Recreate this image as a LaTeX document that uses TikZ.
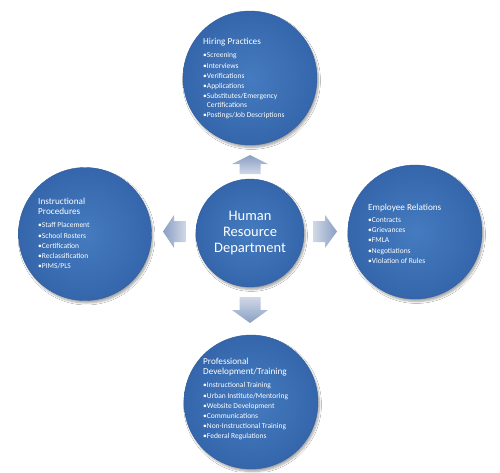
\documentclass[tikz,border=0pt]{standalone}
\usepackage{fontspec}
\setmainfont{Carlito}
\usetikzlibrary{shadows.blur}
\definecolor{cbluein}{HTML}{457BC0}
\definecolor{cblueout}{HTML}{3566AB}
\definecolor{cedge}{HTML}{30609F}
\definecolor{arrdark}{HTML}{8A9FC3}
\definecolor{arrlight}{HTML}{D0D8E6}
\tikzset{
  x=1pt, y=-1pt,
  bubble/.style={circle, draw=cedge, line width=0.4pt, inner color=cbluein, outer color=cblueout,
    blur shadow={shadow xshift=1.5pt, shadow yshift=-2.5pt, shadow blur steps=6, shadow opacity=35}},
  titletext/.style={anchor=north west, inner sep=0pt, align=left, text=white,
    font=\fontsize{9.2}{10}\selectfont},
  itemtext/.style={anchor=north west, inner sep=0pt, align=left, text=white,
    font=\fontsize{7.5}{10.2}\selectfont},
}
\begin{document}
\begin{tikzpicture}
\useasboundingbox (0,0) rectangle (500,472);
\fill[white] (0,0) rectangle (500,472);

% circles
\node[bubble, minimum size=134pt] (top) at (250,78) {};
\node[bubble, minimum size=133pt] (left) at (85,234) {};
\node[bubble, minimum size=134pt] (right) at (415,232) {};
\node[bubble, minimum size=134pt] (bottom) at (251,402) {};
\node[bubble, minimum size=108pt] (hr) at (250,233) {};

\node[text=white, align=center, font=\fontsize{14.5}{16}\selectfont] (hrtext) at (hr.center) {Human\\Resource\\Department};

% arrows
\shade[top color=arrdark, bottom color=arrlight]
  (250,155) -- (268,164) -- (260.5,164) -- (260.5,174) -- (239.5,174) -- (239.5,164) -- (232,164) -- cycle;
\shade[top color=arrlight, bottom color=arrdark]
  (239.5,297) -- (260.5,297) -- (260.5,310) -- (268,310) -- (250,323) -- (232,310) -- (239.5,310) -- cycle;
\shade[left color=arrdark, right color=arrlight]
  (163,231.5) -- (174,215) -- (174,221) -- (186,221) -- (186,242) -- (174,242) -- (174,248) -- cycle;
\shade[left color=arrlight, right color=arrdark]
  (313,221) -- (325,221) -- (325,215) -- (337,231.5) -- (325,248) -- (325,242) -- (313,242) -- cycle;

% top text
\node[titletext] (t1) at (203,38) {Hiring Practices};
\node[itemtext] (t2) at (203,52.5) {•Screening\\•Interviews\\•Verifications\\•Applications\\•Substitutes/Emergency\\[-1.8pt]\hphantom{•}Certifications\\•Postings/Job Descriptions};

% left text
\node[titletext] (l1) at (38,198) {Instructional\\Procedures};
\node[itemtext] (l2) at (38,222.5) {•Staff Placement\\•School Rosters\\•Certification\\•Reclassification\\•PIMS/PLS};

% right text
\node[titletext] (r1) at (368,204) {Employee Relations};
\node[itemtext] (r2) at (368,217.5) {•Contracts\\•Grievances\\•FMLA\\•Negotiations\\•Violation of Rules};

% bottom text
\node[titletext] (b1) at (203,358) {Professional\\Development/Training};
\node[itemtext] (b2) at (203,382.5) {•Instructional Training\\•Urban Institute/Mentoring\\•Website Development\\•Communications\\•Non-Instructional Training\\•Federal Regulations};
\end{tikzpicture}
\end{document}
